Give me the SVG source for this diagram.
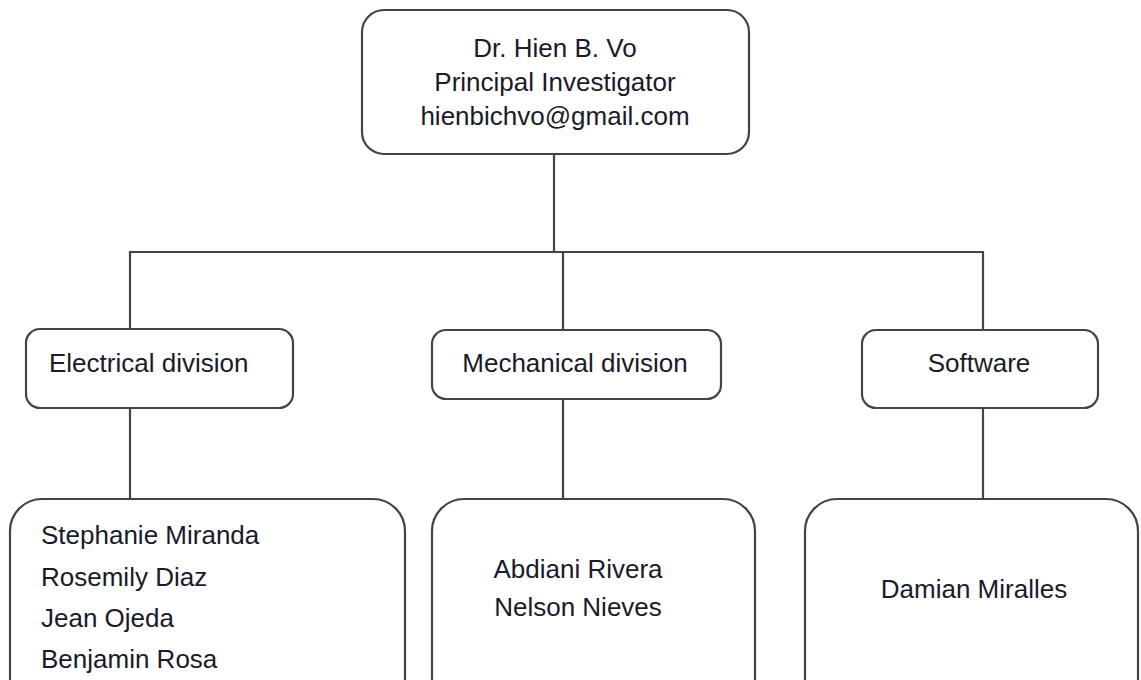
<svg xmlns="http://www.w3.org/2000/svg" width="1141" height="680" viewBox="0 0 1141 680">
<style>
.box{fill:#fff;stroke:#444;stroke-width:2.2}
.t{font-family:"Liberation Sans",Arial,sans-serif;font-size:26px;fill:#1a1a2a}
.c{text-anchor:middle}
.ln{stroke:#444;stroke-width:2.2;fill:none}
</style>
<rect width="1141" height="680" fill="#fff"/>
<g id="connectors">
<line class="ln" x1="554" y1="154" x2="554" y2="252"/>
<polyline class="ln" points="130,330 130,252 983,252 983,330"/>
<line class="ln" x1="563" y1="252" x2="563" y2="330"/>
<line class="ln" x1="130" y1="408" x2="130" y2="499"/>
<line class="ln" x1="563" y1="399" x2="563" y2="499"/>
<line class="ln" x1="983" y1="408" x2="983" y2="499"/>
</g>
<g id="pi">
<rect class="box" x="362" y="10" width="387" height="144" rx="22"/>
<text class="t c" x="555" y="57">Dr. Hien B. Vo</text>
<text class="t c" x="555" y="91">Principal Investigator</text>
<text class="t c" x="555" y="125">hienbichvo@gmail.com</text>
</g>
<g id="electrical">
<rect class="box" x="26" y="329" width="267" height="79" rx="14"/>
<text class="t" x="49" y="372">Electrical division</text>
</g>
<g id="mechanical">
<rect class="box" x="432" y="330" width="289" height="69" rx="14"/>
<text class="t c" x="575" y="372">Mechanical division</text>
</g>
<g id="software">
<rect class="box" x="862" y="330" width="236" height="78" rx="14"/>
<text class="t c" x="979" y="372">Software</text>
</g>
<g id="electrical-team">
<rect class="box" x="10" y="499" width="395" height="220" rx="32"/>
<text class="t" x="41" y="544">Stephanie Miranda</text>
<text class="t" x="41" y="586">Rosemily Diaz</text>
<text class="t" x="41" y="627">Jean Ojeda</text>
<text class="t" x="41" y="668">Benjamin Rosa</text>
</g>
<g id="mechanical-team">
<rect class="box" x="432" y="499" width="323" height="220" rx="32"/>
<text class="t c" x="578" y="578">Abdiani Rivera</text>
<text class="t c" x="578" y="616">Nelson Nieves</text>
</g>
<g id="software-team">
<rect class="box" x="805" y="499" width="333" height="220" rx="32"/>
<text class="t c" x="974" y="598">Damian Miralles</text>
</g>
</svg>
